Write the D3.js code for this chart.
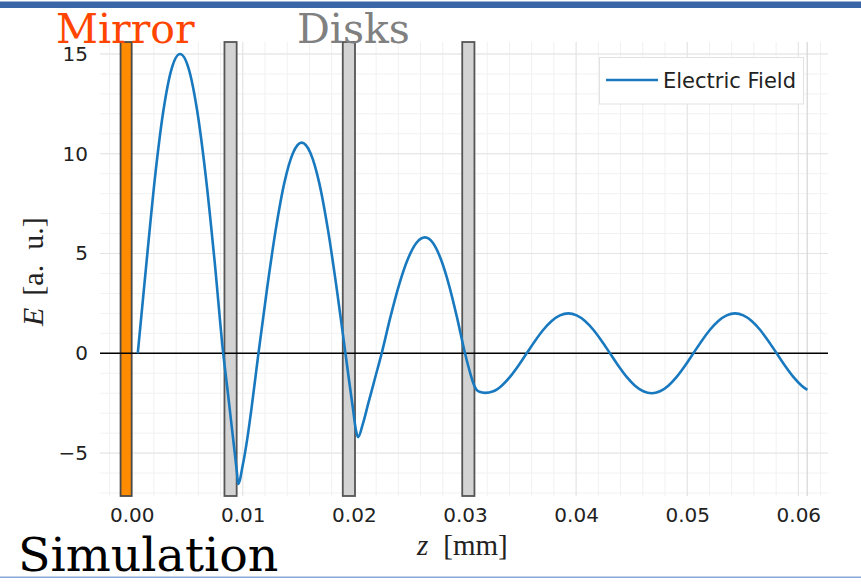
<!DOCTYPE html>
<html>
<head>
<meta charset="utf-8">
<script src="https://cdn.jsdelivr.net/npm/d3@7"></script>
<style>
  html, body { margin: 0; padding: 0; background: #ffffff; }
  svg { display: block; }
</style>
</head>
<body>
<svg id="chart" width="861" height="585"></svg>
<script>
// Electric field profile along the propagation axis z
const zValues = [
  0.00055, 0.00135, 0.00210, 0.00285, 0.00360, 0.00435,
  0.00513, 0.00590, 0.00668, 0.00746, 0.00824,
  0.00860, 0.00900, 0.00930, 0.00948, 0.00958,
  0.01000, 0.01040, 0.01080, 0.01141,
  0.01219, 0.01297, 0.01374, 0.01452, 0.01530,
  0.01609, 0.01688, 0.01766, 0.01845, 0.01924,
  0.01960, 0.01990, 0.02020, 0.02038,
  0.02080, 0.02130, 0.02190, 0.02250,
  0.02328, 0.02406, 0.02484, 0.02562, 0.02640,
  0.02712, 0.02784, 0.02856, 0.02928, 0.03000,
  0.03025, 0.03050, 0.03075, 0.03100, 0.03130, 0.03180,
  0.03255, 0.03330, 0.03405, 0.03480, 0.03555,
  0.03630, 0.03705, 0.03780, 0.03855, 0.03930,
  0.04005, 0.04080, 0.04155, 0.04230, 0.04305,
  0.04380, 0.04455, 0.04530, 0.04605, 0.04680,
  0.04755, 0.04830, 0.04905, 0.04980, 0.05055,
  0.05130, 0.05205, 0.05280, 0.05355, 0.05430,
  0.05505, 0.05580, 0.05655, 0.05730, 0.05805,
  0.05880, 0.05955, 0.06030, 0.06081
];
const fieldValues = [
  0.00, 4.64, 8.82, 12.14, 14.27, 15.00,
  14.27, 12.14, 8.82, 4.64, 0.00,
  -1.70, -3.65, -5.10, -6.00, -6.55,
  -5.60, -4.30, -2.70, 0.00,
  3.26, 6.21, 8.54, 10.04, 10.56,
  10.04, 8.54, 6.21, 3.26, 0.00,
  -1.50, -2.70, -3.90, -4.20,
  -3.55, -2.50, -1.25, 0.00,
  1.80, 3.42, 4.70, 5.53, 5.81,
  5.53, 4.70, 3.42, 1.80, 0.00,
  -0.55, -1.05, -1.50, -1.80, -1.93, -1.98,
  -1.90, -1.62, -1.18, -0.62, 0.00,
  0.62, 1.18, 1.62, 1.90, 2.00,
  1.90, 1.62, 1.18, 0.62, 0.00,
  -0.62, -1.18, -1.62, -1.90, -2.00,
  -1.90, -1.62, -1.18, -0.62, 0.00,
  0.62, 1.18, 1.62, 1.90, 2.00,
  1.90, 1.62, 1.18, 0.62, 0.00,
  -0.62, -1.18, -1.62, -1.83
];

// Mirror and dielectric disk positions (z)
const mirrorSpan = [-0.0010, 0.0000];
const diskStarts = [0.00835, 0.01900, 0.02975];
const diskEnds   = [0.00945, 0.02010, 0.03085];
const domainEnd = 0.0608;

// Axis ticks
const xTicks = [0.00, 0.01, 0.02, 0.03, 0.04, 0.05, 0.06];
const xTickLabels = ["0.00", "0.01", "0.02", "0.03", "0.04", "0.05", "0.06"];
const yTicks = [-5, 0, 5, 10, 15];
const yTickLabels = ["\u22125", "0", "5", "10", "15"];
const seriesName = "Electric Field";

const svg = d3.select("#chart");
const W = 861, H = 585;
const plot = { left: 100, right: 828, top: 42, bottom: 496 };

const x = d3.scaleLinear().domain([-0.00285, 0.06267]).range([plot.left, plot.right]);
const y = d3.scaleLinear().domain([-7.15, 15.6]).range([plot.bottom, plot.top]);

// slide frame lines
svg.append("rect").attr("x", 0).attr("y", 1.5).attr("width", W).attr("height", 6.5).attr("fill", "#3866a6");
svg.append("rect").attr("x", 0).attr("y", 576.5).attr("width", W).attr("height", 1.5).attr("fill", "#86a8d8");

// grid: minor then major
const gx = svg.append("g");
const minorX = d3.ticks(x.domain()[0], x.domain()[1], 35);
const minorY = d3.ticks(y.domain()[0], y.domain()[1], 23);
gx.selectAll(".mx").data(minorX).join("line")
  .attr("x1", d => x(d)).attr("x2", d => x(d))
  .attr("y1", plot.top).attr("y2", plot.bottom)
  .attr("stroke", "#f1f1f1").attr("stroke-width", 1);
gx.selectAll(".my").data(minorY).join("line")
  .attr("x1", plot.left).attr("x2", plot.right)
  .attr("y1", d => y(d)).attr("y2", d => y(d))
  .attr("stroke", "#f1f1f1").attr("stroke-width", 1);
gx.selectAll(".Mx").data(xTicks).join("line")
  .attr("x1", d => x(d)).attr("x2", d => x(d))
  .attr("y1", plot.top).attr("y2", plot.bottom)
  .attr("stroke", "#e4e4e4").attr("stroke-width", 1);
gx.selectAll(".My").data(yTicks).join("line")
  .attr("x1", plot.left).attr("x2", plot.right)
  .attr("y1", d => y(d)).attr("y2", d => y(d))
  .attr("stroke", "#e4e4e4").attr("stroke-width", 1);

// end of simulated domain
svg.append("line")
  .attr("x1", x(domainEnd)).attr("x2", x(domainEnd))
  .attr("y1", plot.top).attr("y2", plot.bottom)
  .attr("stroke", "#d6d6d6").attr("stroke-width", 1.2);

// mirror
svg.append("rect")
  .attr("x", x(mirrorSpan[0])).attr("y", plot.top)
  .attr("width", x(mirrorSpan[1]) - x(mirrorSpan[0]))
  .attr("height", plot.bottom - plot.top)
  .attr("fill", "#ff8c00").attr("stroke", "#4a4a4a").attr("stroke-width", 1.8);

// disks
svg.append("g").selectAll("rect").data(diskStarts).join("rect")
  .attr("x", d => x(d)).attr("y", plot.top)
  .attr("width", (d, i) => x(diskEnds[i]) - x(d))
  .attr("height", plot.bottom - plot.top)
  .attr("fill", "#d3d3d3").attr("stroke", "#555555").attr("stroke-width", 1.8);

// zero line
svg.append("line")
  .attr("x1", plot.left).attr("x2", plot.right)
  .attr("y1", y(0)).attr("y2", y(0))
  .attr("stroke", "#000").attr("stroke-width", 1.5);

// field curve
const pts = zValues.map((z, i) => [z, fieldValues[i]]);
const line = d3.line().x(d => x(d[0])).y(d => y(d[1])).curve(d3.curveMonotoneX);
svg.append("path").datum(pts)
  .attr("d", line)
  .attr("fill", "none").attr("stroke", "#1879bf").attr("stroke-width", 2.6)
  .attr("stroke-linejoin", "round");

// axes (labels only)
const tickFont = "'DejaVu Sans', sans-serif";
const xAxis = svg.append("g").attr("transform", `translate(0,${plot.bottom})`)
  .call(d3.axisBottom(x).tickValues(xTicks).tickFormat((d, i) => xTickLabels[i]).tickSize(0).tickPadding(12));
const yAxis = svg.append("g").attr("transform", `translate(${plot.left},0)`)
  .call(d3.axisLeft(y).tickValues(yTicks).tickFormat((d, i) => yTickLabels[i]).tickSize(0).tickPadding(12));
[xAxis, yAxis].forEach(a => {
  a.select(".domain").remove();
  a.selectAll("text").attr("font-family", tickFont).attr("font-size", 20).attr("fill", "#222");
});

// axis titles
const xt = svg.append("text").attr("x", 417).attr("y", 555)
  .attr("font-family", "'Liberation Serif', serif").attr("font-size", 29).attr("fill", "#222");
xt.append("tspan").attr("font-style", "italic").text("z");
xt.append("tspan").attr("dx", 15).text("[mm]");

const yt = svg.append("text")
  .attr("transform", "translate(43,326) rotate(-90)")
  .attr("font-family", "'Liberation Serif', serif").attr("font-size", 30).attr("fill", "#222");
yt.append("tspan").attr("font-style", "italic").text("E");
yt.append("tspan").attr("dx", 12).text("[a.\u2002u.]");

// legend
const lg = svg.append("g");
lg.append("rect").attr("x", 599.5).attr("y", 57.5).attr("width", 204).attr("height", 46.5)
  .attr("fill", "#fff").attr("stroke", "#e2e2e2").attr("stroke-width", 1);
lg.append("line").attr("x1", 606).attr("x2", 658).attr("y1", 80).attr("y2", 80)
  .attr("stroke", "#1879bf").attr("stroke-width", 2.6);
lg.append("text").attr("x", 663).attr("y", 80).attr("dy", "0.36em")
  .attr("font-family", tickFont).attr("font-size", 21).attr("fill", "#222").text(seriesName);

// annotations
svg.append("text").attr("x", 56).attr("y", 43.3)
  .attr("font-family", "'DejaVu Serif', serif").attr("font-size", 41).attr("fill", "#ff4500").text("Mirror");
svg.append("text").attr("x", 297).attr("y", 43.3)
  .attr("font-family", "'DejaVu Serif', serif").attr("font-size", 41).attr("fill", "#808080").text("Disks");
svg.append("text").attr("x", 18).attr("y", 570.5)
  .attr("font-family", "'DejaVu Serif', serif").attr("font-size", 47.5).attr("fill", "#000").text("Simulation");
</script>
</body>
</html>
